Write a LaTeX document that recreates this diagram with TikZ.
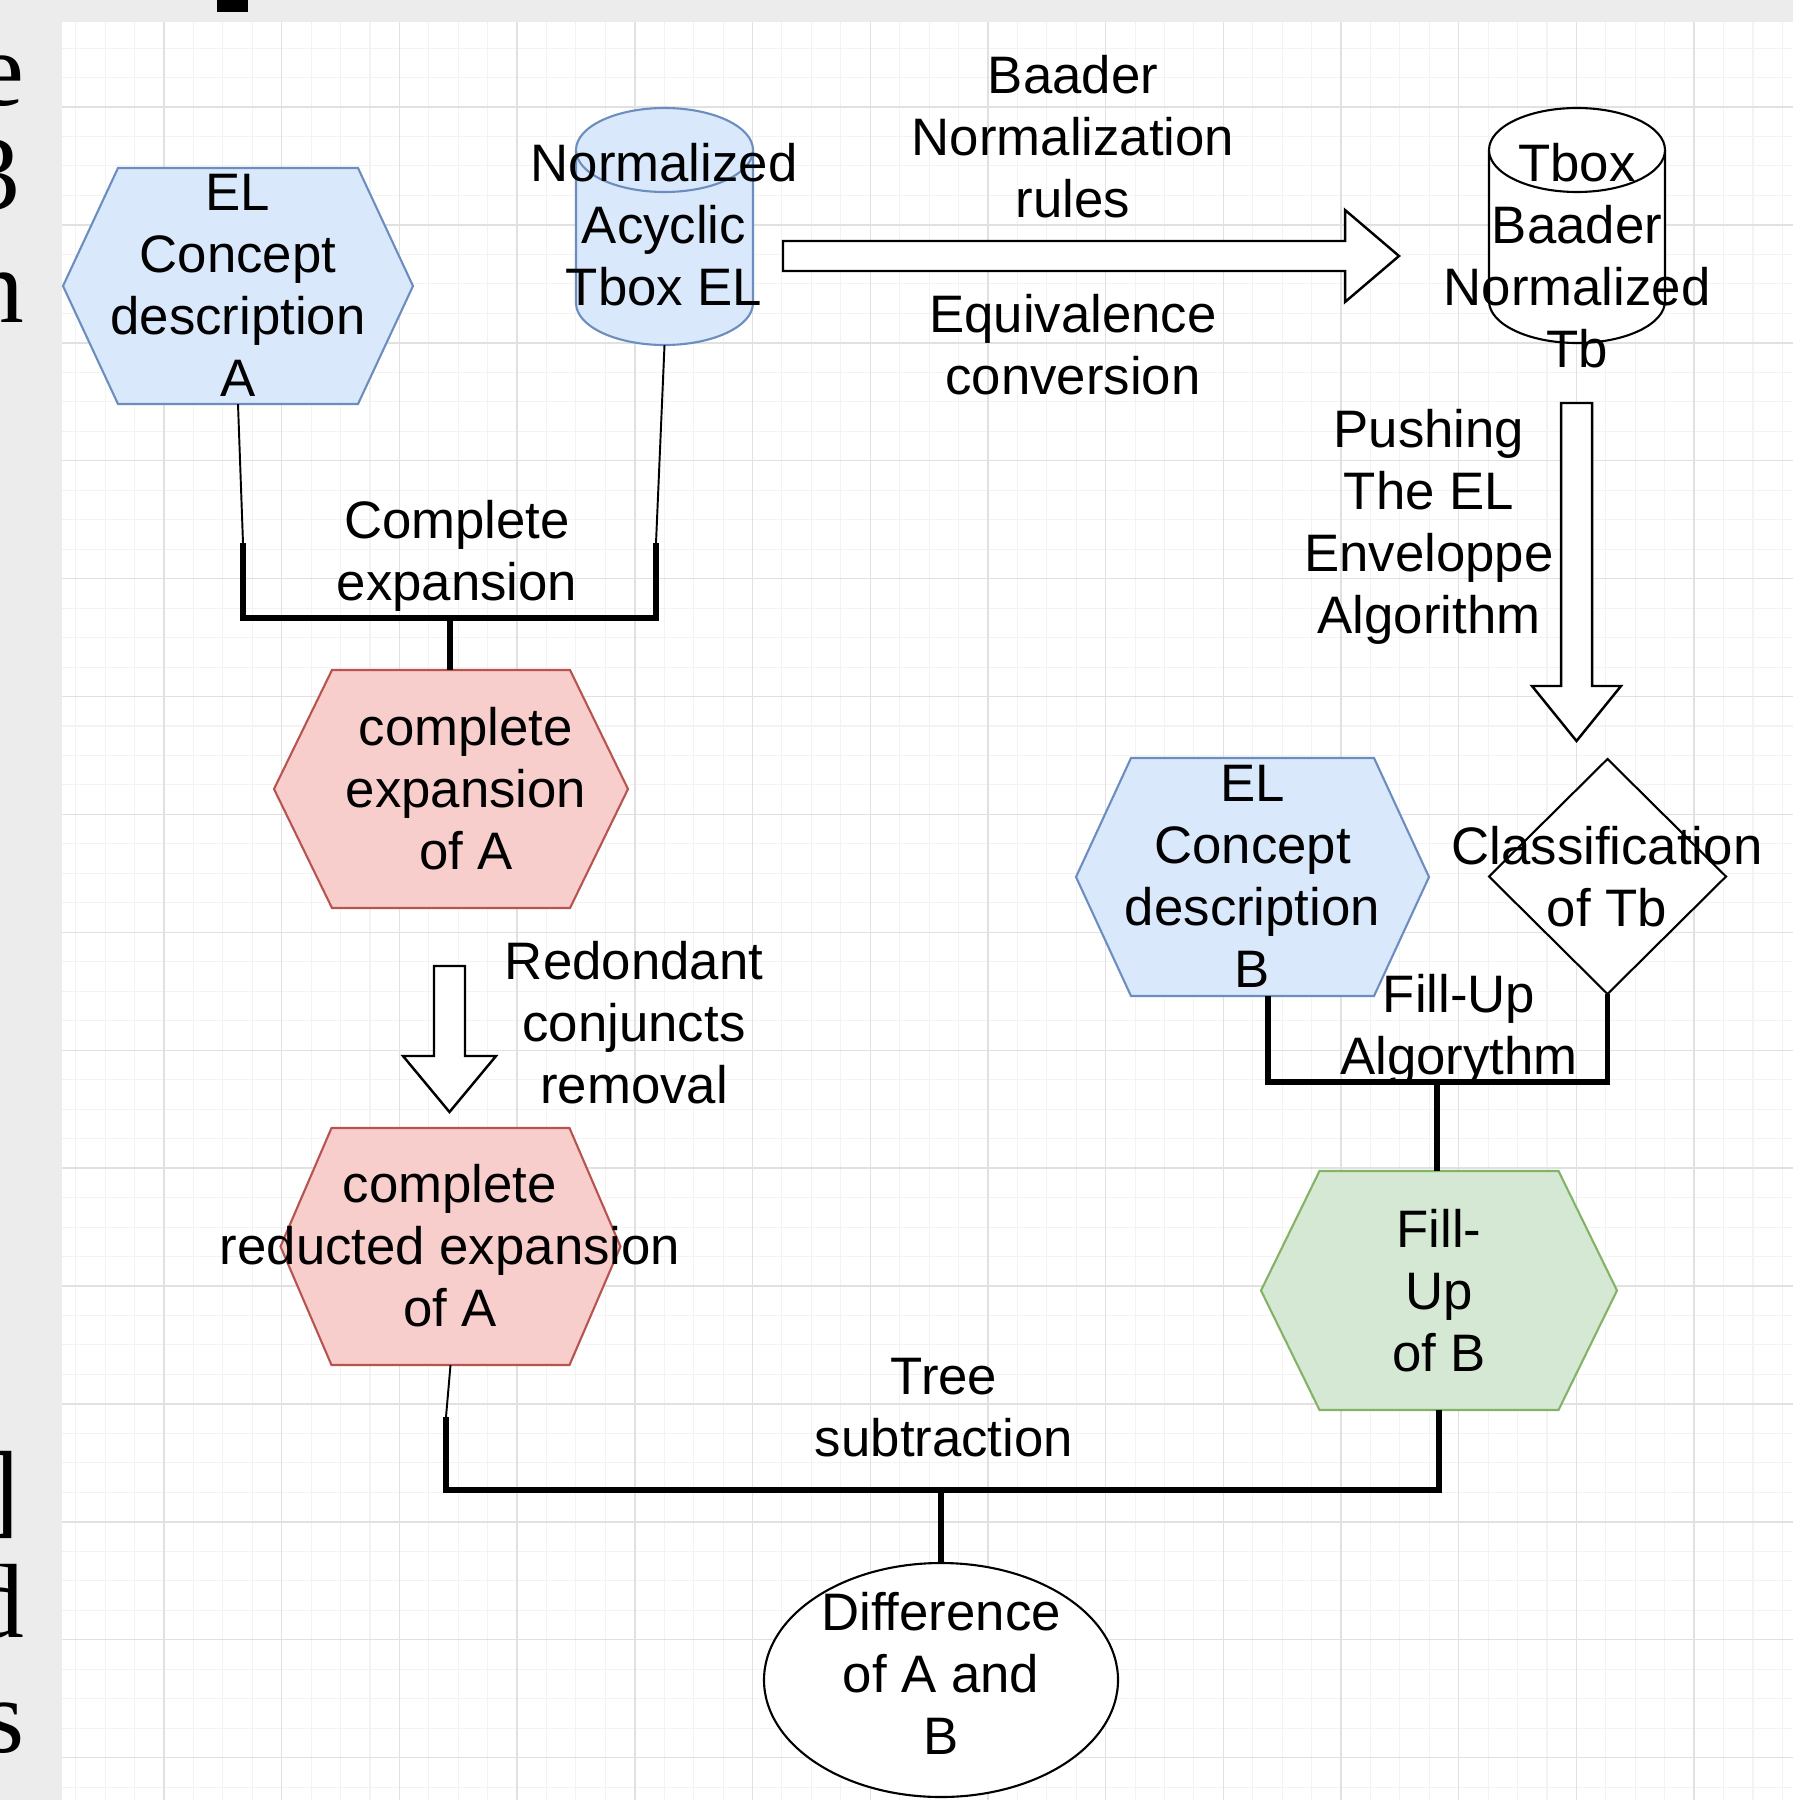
\documentclass[tikz,border=0pt]{standalone}
\usepackage{fontspec}
\setmainfont{Liberation Sans}
\newfontfamily\sidefont{Liberation Serif}
\usetikzlibrary{backgrounds,calc}
\definecolor{bggrey}{HTML}{ECECEC}
\definecolor{gmajor}{HTML}{E1E1E1}
\definecolor{gminor}{HTML}{F3F3F3}
\definecolor{bluefill}{HTML}{DAE8FC}
\definecolor{bluedraw}{HTML}{6C8EBF}
\definecolor{redfill}{HTML}{F8CECC}
\definecolor{reddraw}{HTML}{B85450}
\definecolor{greenfill}{HTML}{D5E8D4}
\definecolor{greendraw}{HTML}{82B366}
\newcommand{\drawhex}[5]{\filldraw[#1, shift={(#2.center)}] (-#3,0) -- (-#3+#5,-#4) -- (#3-#5,-#4) -- (#3,0) -- (#3-#5,#4) -- (-#3+#5,#4) -- cycle;}
\newcommand{\drawcyl}[5]{%
  \filldraw[#1, shift={(#2.center)}] (-#3,-#4+#5) -- (-#3,#4-#5) arc[start angle=180,end angle=0,x radius=#3,y radius=#5] -- (#3,-#4+#5) arc[start angle=0,end angle=-180,x radius=#3,y radius=#5] -- cycle;
  \draw[#1, shift={(#2.center)}] (-#3,-#4+#5) arc[start angle=180,end angle=0,x radius=#3,y radius=#5];}
\begin{document}
\begin{tikzpicture}[x=0.01cm, y=-0.01cm,
  shapebox/.style={draw=none, inner sep=0pt, outer sep=0pt, rectangle},
  txt/.style={font=\fontsize{15pt}{17.64pt}\selectfont, align=center, inner sep=0pt, text=black, yshift=-0.03cm, execute at begin node=\strut, execute at end node=\strut},
  bluehex/.style={fill=bluefill, draw=bluedraw, line width=0.6pt},
  redhex/.style={fill=redfill, draw=reddraw, line width=0.6pt},
  greenhex/.style={fill=greenfill, draw=greendraw, line width=0.6pt},
  whiteshape/.style={fill=white, draw=black, line width=0.6pt},
  thinc/.style={line width=0.55pt},
  thickc/.style={line width=1.6pt},
  blockarrow/.style={fill=white, draw=black, line width=0.7pt, line join=miter},
  sidech/.style={font=\sidefont\fontsize{30pt}{36pt}\selectfont, inner sep=0pt, anchor=base east, text=black}
]
\useasboundingbox (0,0) rectangle (1793,1800);

% ---------- shape nodes ----------
\node[shapebox, minimum width=3.5cm, minimum height=2.36cm] (A) at (238,286) {};
\node[shapebox, minimum width=3.54cm, minimum height=2.38cm] (CE) at (451,789) {};
\node[shapebox, minimum width=3.4cm, minimum height=2.37cm] (CR) at (450.5,1246.5) {};
\node[shapebox, minimum width=3.53cm, minimum height=2.38cm] (B) at (1252.5,877) {};
\node[shapebox, minimum width=3.57cm, minimum height=2.39cm] (F) at (1439,1290.5) {};
\node[shapebox, minimum width=1.77cm, minimum height=2.37cm] (T1) at (664.5,226.5) {};
\node[shapebox, minimum width=1.76cm, minimum height=2.35cm] (T2) at (1577,225.5) {};
\node[shapebox, minimum width=2.37cm, minimum height=2.35cm] (D) at (1607.5,876.5) {};
\node[shapebox, minimum width=3.54cm, minimum height=2.34cm] (E) at (941,1680) {};

% ---------- texts ----------
\node[txt] (At) at (238,292) {EL\\Concept\\description\\A};
\node[txt] (CEt) at (466,795) {complete\\expansion\\of A};
\node[txt] (CRt) at (450,1252) {complete\\reducted expansion\\of A};
\node[txt] (Bt) at (1252.5,883) {EL\\Concept\\description\\B};
\node[txt] (Ft) at (1439,1297) {Fill-\\Up\\of B};
\node[txt] (T1t) at (664,231) {Normalized\\Acyclic\\Tbox EL};
\node[txt] (T2t) at (1577,262) {Tbox\\Baader\\Normalized\\Tb};
\node[txt] (Dt) at (1607,883) {Classification\\of Tb};
\node[txt] (Et) at (941,1680) {Difference\\of A and\\B};
\node[txt] (L1) at (1073,143) {Baader\\Normalization\\rules};
\node[txt] (L2) at (1073,351) {Equivalence\\conversion};
\node[txt] (L3) at (1429,528) {Pushing\\The EL\\Enveloppe\\Algorithm};
\node[txt] (L4) at (457,557) {Complete\\expansion};
\node[txt] (L5) at (634,1029) {Redondant\\conjuncts\\removal};
\node[txt] (L6) at (1459,1031) {Fill-Up\\Algorythm};
\node[txt] (L7) at (944,1414) {Tree\\subtraction};

% ---------- background layer ----------
\begin{scope}[on background layer]
  \fill[bggrey] (0,0) rectangle (1793,1800);
  \fill[black] (217,0) rectangle (248,12);
  \fill[white] (62,22) rectangle (1793,1800);
  \begin{scope}
    \clip (62,22) rectangle (1793,1800);
    \foreach \k in {-4,...,56} \draw[gminor, line width=0.3pt] ({164+29.425*\k},22) -- ({164+29.425*\k},1800);
    \foreach \k in {-3,...,57} \draw[gminor, line width=0.3pt] (62,{107+29.475*\k}) -- (1793,{107+29.475*\k});
    \foreach \k in {0,...,14} \draw[gmajor, line width=0.4pt] ({164+117.7*\k},22) -- ({164+117.7*\k},1800);
    \foreach \k in {-1,...,14} \draw[gmajor, line width=0.4pt] (62,{107+117.9*\k}) -- (1793,{107+117.9*\k});
  \end{scope}
  \begin{scope}
    \clip (0,0) rectangle (62,1800);
    \node[sidech] (s1) at (25,106) {e};
    \node[sidech] (s2) at (21,209) {3};
    \node[sidech] (s3) at (25,322) {n};
    \node[sidech] (s4) at (20,1524) {]};
    \node[sidech] (s5) at (25,1637) {d};
    \node[sidech] (s6) at (25,1752) {s};
  \end{scope}
  \drawhex{bluehex}{A}{175}{118}{55}
  \drawhex{redhex}{CE}{177}{119}{58}
  \drawhex{redhex}{CR}{170}{118.5}{51}
  \drawhex{bluehex}{B}{176.5}{119}{55}
  \drawhex{greenhex}{F}{178}{119.5}{58.5}
  \drawcyl{bluehex}{T1}{88.5}{118.5}{42}
  \drawcyl{whiteshape}{T2}{88}{117.5}{42}
  \filldraw[whiteshape, shift={(D.center)}] (-118.5,0) -- (0,-117.5) -- (118.5,0) -- (0,117.5) -- cycle;
  \filldraw[whiteshape] (E.center) ellipse [x radius=177, y radius=117];
\end{scope}

% ---------- block arrows ----------
\coordinate (r1) at (783,256);
\filldraw[blockarrow, shift={(r1)}] (0,-15) -- (562,-15) -- (562,-46) -- (616,0) -- (562,46) -- (562,15) -- (0,15) -- cycle;
\coordinate (r2) at (1576.5,403);
\filldraw[blockarrow, shift={(r2)}] (-15.5,0) -- (-15.5,283) -- (-44.5,283) -- (0,338) -- (44.5,283) -- (15.5,283) -- (15.5,0) -- cycle;
\coordinate (r3) at (449.5,966);
\filldraw[blockarrow, shift={(r3)}] (-15.5,0) -- (-15.5,90) -- (-46.5,90) -- (0,146) -- (46.5,90) -- (15.5,90) -- (15.5,0) -- cycle;

% ---------- connectors ----------
\coordinate (a1) at (243,543);
\coordinate (b1) at (656,543);
\coordinate (m1) at (450,618);
\draw[thinc] (A.south) -- (a1);
\draw[thinc] (T1.south) -- (b1);
\draw[thickc] (a1) -- (a1 |- m1) -- (b1 |- m1) -- (b1);
\draw[thickc] (m1) -- (m1 |- CE.north);

\coordinate (b2) at ($(B.south)+(15.5,0)$);
\coordinate (m2) at (1437,1082);
\draw[thickc] (b2) -- (b2 |- m2) -- (D.south |- m2) -- (D.south);
\draw[thickc] (m2) -- (m2 |- F.north);

\coordinate (c3) at (446,1417);
\coordinate (m3) at (941,1490);
\draw[thinc] (CR.south) -- (c3);
\draw[thickc] (c3) -- (c3 |- m3) -- (F.south |- m3) -- (F.south);
\draw[thickc] (m3) -- (E.north);
\end{tikzpicture}
\end{document}
